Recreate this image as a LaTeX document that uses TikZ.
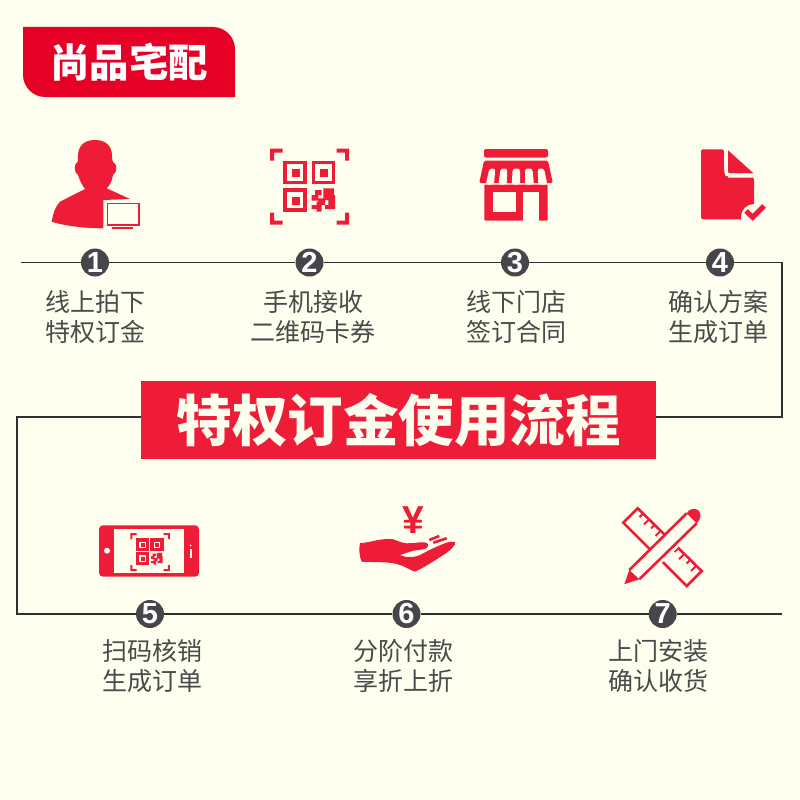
\documentclass[tikz,border=0pt]{standalone}
\usepackage{fontspec}
\setmainfont{Noto Sans CJK SC}
\newfontfamily\digitfont{Liberation Sans}
\usetikzlibrary{arrows.meta,positioning,calc}
\definecolor{FlowRed}{HTML}{EE1C37}
\definecolor{FlowTag}{HTML}{E60026}
\definecolor{FlowCream}{HTML}{FFFFF0}
\definecolor{FlowDark}{HTML}{47454A}
\definecolor{FlowText}{HTML}{4A4A4A}
\definecolor{FlowLine}{HTML}{2F2F2F}

\begin{document}
\begin{tikzpicture}[x=1pt,y=-1pt]
    \tikzset{
      stepdot/.style={circle,fill=FlowDark,text=white,minimum size=28pt,inner sep=0pt,font=\digitfont\fontsize{29}{29}\selectfont\bfseries},
      steplabel/.style={align=center,text=FlowText,inner sep=0pt,font=\fontsize{25}{30}\selectfont},
      flowline/.style={draw=FlowLine,line width=1.1pt},
      qrmark/.pic={
        \fill[FlowRed] (-39.5,-26) |- (-27,-38) -- (-27,-34) -| (-35.5,-26) -- cycle;
        \fill[FlowRed] (39.5,-26) |- (27,-38) -- (27,-34) -| (35.5,-26) -- cycle;
        \fill[FlowRed] (-39.5,26) |- (-27,38) -- (-27,34) -| (-35.5,26) -- cycle;
        \fill[FlowRed] (39.5,26) |- (27,38) -- (27,34) -| (35.5,26) -- cycle;
        \draw[FlowRed,line width=3.3pt] (-24.7,-24.3) rectangle (-4.7,-4.4);
        \draw[FlowRed,line width=3.3pt] (3.7,-24.3) rectangle (23.7,-4.4);
        \draw[FlowRed,line width=3.3pt] (-24.7,3.3) rectangle (-4.7,23.3);
        \fill[FlowRed] (-17.4,-17.7) rectangle (-9.7,-10);
        \fill[FlowRed] (10.3,-17.7) rectangle (18.6,-10);
        \fill[FlowRed] (-17.4,10) rectangle (-9.7,18.3);
        \fill[FlowRed] (5.3,3.3) rectangle (12,8.3) (13.6,1.6) rectangle (24.3,13.3) (2,8.3) rectangle (8.6,14)
          (8.6,11.6) rectangle (15.3,18.3) (2,18.3) rectangle (12,22.3) (7,15) rectangle (12,25)
          (15.3,18.3) rectangle (25.3,22.3) (18.6,8.3) rectangle (25.3,18.3);
      }
    }
    \fill[FlowCream] (0,0) rectangle (800,800);
    \useasboundingbox (0,0) rectangle (800,800);

    % tag
    \fill[FlowTag] (23,27) -- (213,27) .. controls (225,27) and (235,37) .. (235,49) -- (235,97) -- (45,97) .. controls (33,97) and (23,87) .. (23,75) -- cycle;
    \node[text=white,inner sep=0pt,font=\fontsize{39.5}{39.5}\selectfont\bfseries] (tag) at (129,62) {尚品宅配};

    % user with monitor
    \fill[FlowRed] (95,140) .. controls (84,140) and (78,146) .. (78,156) .. controls (78,159) and (78,161) .. (77.5,162) .. controls (73.5,164) and (74,173) .. (78,175) .. controls (79.5,180) and (82,185) .. (85,189) -- (60,201.7) .. controls (55,207) and (53,214) .. (51.7,221.7) .. controls (65,226) and (85,228.3) .. (103.3,228.3) -- (103.3,200) -- (130,199) -- (106.7,188.3) .. controls (110,185) and (112,181) .. (113,175) .. controls (117,173) and (118,164) .. (113,162) .. controls (112.5,161) and (112,159) .. (112,156) .. controls (112,146) and (106,140) .. (95,140) -- cycle;
    \draw[FlowRed,line width=1.9pt] (107.5,203.5) rectangle (139.3,225.2);
    \draw[FlowRed,line width=2pt] (111.7,228) -- (133.3,228);

    % qr code
    \pic at (309.7,186.7) {qrmark};

    % shop
    \fill[FlowRed,rounded corners=2pt] (484,149) rectangle (548,157.5);
    \fill[FlowRed,rounded corners=1.5pt] (484,160.7) -- (548,160.7) -- (552.8,183) -- (479.2,183) -- cycle;
    \fill[FlowRed,rounded corners=1pt] (484.3,184.5) rectangle (547.7,220.7);
    \fill[FlowCream] (492.7,191.7) rectangle (515.7,211.7);
    \fill[FlowCream] (523.3,191.7) rectangle (539,221);
    \fill[FlowCream,rounded corners=2.5pt] (489.5,168.5) -- (495.3,168.5) -- (494,184.5) -- (485.7,184.5) -- cycle
      (500.7,168.5) -- (507.3,168.5) -- (506.7,184.5) -- (498.3,184.5) -- cycle
      (512.7,168.5) -- (520,168.5) -- (520,184.5) -- (511.7,184.5) -- cycle
      (525,168.5) -- (532.3,168.5) -- (534,184.5) -- (525,184.5) -- cycle
      (537.7,168.5) -- (544,168.5) -- (547.3,184.5) -- (538.3,184.5) -- cycle;

    % document
    \fill[FlowRed,rounded corners=1.5pt] (701,149.3) -- (724,149.3) -- (724,177.5) -- (754,177.5) -- (754,219.3) -- (701,219.3) -- cycle;
    \fill[FlowRed] (727.7,150) -- (753.5,173.3) -- (730,173.3) .. controls (728.5,173.3) and (727.7,172.5) .. (727.7,171) -- cycle;
    \fill[FlowRed] (724,170) rectangle (728,177.5);
    \draw[FlowCream,line width=3.5pt] (726,150) -- (726,171) .. controls (726,174) and (727,175.3) .. (730,175.3) -- (755,175.3);
    \fill[FlowCream] (754,217) circle (13);
    \draw[FlowRed,line width=5pt] (746,211) -- (752.7,217.3) -- (764,206);

    % phone
    \fill[FlowRed,rounded corners=4pt] (99,525.3) rectangle (199,576.7);
    \fill[FlowCream] (114,529.3) rectangle (184,572.7);
    \fill[FlowCream] (107,550.7) circle (3);
    \draw[FlowCream,line width=2pt] (190.7,549) -- (190.7,558);
    \fill[FlowCream] (190.7,545.5) circle (1);
    \pic[scale=0.5] at (150,552) {qrmark};

    % hand
    \node[text=FlowRed,inner sep=0pt,font=\digitfont\fontsize{39}{39}\selectfont\bfseries] (yen) at (413.5,520) {¥};
    \fill[FlowRed] (360,543) .. controls (368,543) and (375,540) .. (383.3,539.3) .. controls (388,538.7) and (392,539) .. (393.3,539.3) .. controls (398,541) and (402,543) .. (406.7,543.3) .. controls (412,543.5) and (420,542) .. (425,542.3) .. controls (429,543) and (429.5,547) .. (425,549) .. controls (420,550) and (417,550) .. (413.3,550.7) .. controls (408,552) and (404,554) .. (400,555) .. controls (402,556.5) and (403,556.7) .. (405,556.7) .. controls (410,557) and (415,557.5) .. (420,555) .. controls (426,552) and (431,549) .. (436.7,546.7) .. controls (441,545) and (446,542) .. (451.7,541.7) .. controls (455,541.5) and (456,543) .. (455,544.3) .. controls (452,549) and (448,552) .. (443.3,555) .. controls (434,561) and (425,567) .. (415,571.7) .. controls (410,570) and (405,566.5) .. (400,565) .. controls (394,563) and (389,562.5) .. (383.3,562.3) .. controls (376,562) and (368,562) .. (361.7,561.7) .. controls (359,556) and (359,548) .. (360,543) -- cycle;
    \draw[FlowRed,line width=2.6pt] (429.3,540) -- (439.3,536) (433.3,542.7) -- (446.7,538.3);

    % ruler and pencil
    \draw[FlowRed,line width=2.6pt] (637.7,508.3) -- (623.3,522.7) -- (686.7,586) -- (701.7,571) -- cycle;
    \draw[FlowRed,line width=2pt] (643,513.6) -- ++(-3.5,3.5) (649,519.5) -- ++(-5,5) (654.5,525) -- ++(-3.5,3.5) (660.5,531) -- ++(-5,5)
      (678,548.5) -- ++(-3.5,3.5) (684,554.2) -- ++(-5,5) (690,560) -- ++(-3.5,3.5) (696,566) -- ++(-5,5);
    \fill[FlowCream] (629.3,570) -- (686.7,513.3) -- (699.5,526) -- (642,582.3) -- cycle;
    \fill[FlowRed] (686.7,513.3) .. controls (689,508) and (696,508) .. (698.5,510.5) .. controls (701.5,513.5) and (701,519.5) .. (696.7,523.3) -- cycle;
    \fill[FlowRed] (624.3,584.3) -- (629.3,570) -- (639.3,579.3) -- cycle;
    \draw[FlowRed,line width=2.6pt] (629.3,570) -- (686.7,513.3) (639.3,579.3) -- (696.7,523.3);

    % banner
    \node[fill=FlowRed,text=FlowCream,minimum width=515pt,minimum height=78pt,inner sep=0pt,font=\fontsize{55.5}{56}\selectfont\bfseries] (banner) at (398.5,420) {特权订金使用流程};

    % step dots
    \node[stepdot] (dot1) at (95,262.5) {1};
    \node[stepdot] (dot2) at (309.5,262.5) {2};
    \node[stepdot] (dot3) at (515,262.5) {3};
    \node[stepdot] (dot4) at (720,262.5) {4};
    \node[stepdot] (dot5) at (150,614) {5};
    \node[stepdot] (dot6) at (406.5,614) {6};
    \node[stepdot] (dot7) at (662.7,614) {7};

    % step labels
    \node[steplabel] (text1) at (95,317) {线上拍下\\特权订金};
    \node[steplabel] (text2) at (313,317) {手机接收\\二维码卡券};
    \node[steplabel] (text3) at (516.5,317) {线下门店\\签订合同};
    \node[steplabel] (text4) at (718,317) {确认方案\\生成订单};
    \node[steplabel] (text5) at (152,666) {扫码核销\\生成订单};
    \node[steplabel] (text6) at (403,666) {分阶付款\\享折上折};
    \node[steplabel] (text7) at (658,666) {上门安装\\确认收货};

    % flow line
    \coordinate (startT) at (21,262.5);
    \coordinate (cornerTR) at (782,262.5);
    \coordinate (cornerMR) at (782,417);
    \coordinate (joinR) at (banner.east |- cornerMR);
    \coordinate (cornerML) at (17,417);
    \coordinate (joinL) at (banner.west |- cornerML);
    \coordinate (cornerBL) at (17,614);
    \coordinate (endB) at (782,614);
    \draw[flowline] (startT) -- (dot1) -- (dot2) -- (dot3) -- (dot4) -- (cornerTR) -- (cornerMR) -- (joinR);
    \draw[flowline] (joinL) -- (cornerML) -- (cornerBL) -- (dot5) -- (dot6) -- (dot7) -- (endB);
  \end{tikzpicture}
\end{document}
